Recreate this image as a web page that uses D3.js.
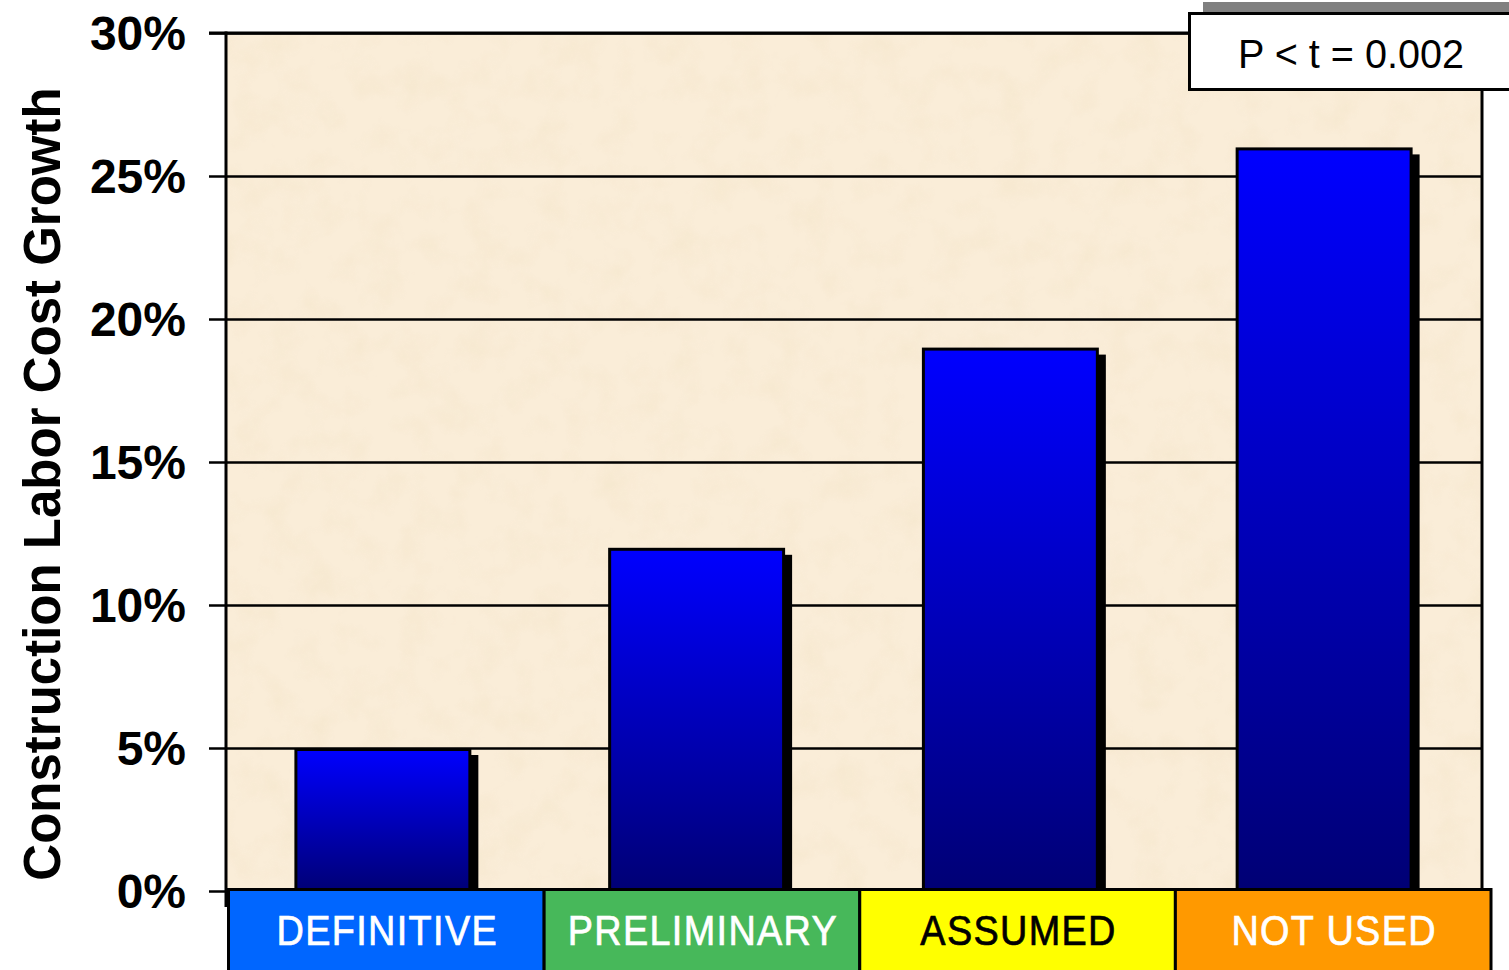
<!DOCTYPE html>
<html>
<head>
<meta charset="utf-8">
<script src="https://cdn.jsdelivr.net/npm/d3@7"></script>
<style>
  html, body { margin: 0; padding: 0; background: #ffffff; overflow: hidden; }
  svg { display: block; }
</style>
</head>
<body>
<svg id="chart" width="1509" height="970"></svg>
<script>
// ---- data ----
const categories = ["DEFINITIVE", "PRELIMINARY", "ASSUMED", "NOT USED"];
const values = [5, 12, 19, 26];               // % construction labor cost growth
const yTicks = [0, 5, 10, 15, 20, 25, 30];
const yTickLabels = ["0%", "5%", "10%", "15%", "20%", "25%", "30%"];
const yAxisTitle = "Construction Labor Cost Growth";
const annotation = "P < t = 0.002";

// ---- styles ----
const catFill = ["#0066FF", "#47B85A", "#FFFF00", "#FF9900"];
const catText = ["#FFFFFF", "#FFFFFF", "#000000", "#FFFFFF"];

const svg = d3.select("#chart");
const plot = { left: 226, right: 1481, top: 33, bottom: 891 };

const x = d3.scaleBand().domain(categories)
  .range([plot.left, plot.right]).paddingInner(0.436).paddingOuter(0.218);
const xCat = d3.scaleBand().domain(categories).range([228.5, 1491]).padding(0);
const y = d3.scaleLinear().domain([0, 30]).range([plot.bottom, plot.top]);

const defs = svg.append("defs");
const grad = defs.append("linearGradient").attr("id", "barGrad")
  .attr("x1", 0).attr("y1", 0).attr("x2", 0).attr("y2", 1);
grad.append("stop").attr("offset", "0%").attr("stop-color", "#0000FF");
grad.append("stop").attr("offset", "100%").attr("stop-color", "#000074");

const filt = defs.append("filter").attr("id", "paper")
  .attr("x", 0).attr("y", 0).attr("width", 1).attr("height", 1);
filt.append("feTurbulence").attr("type", "fractalNoise")
  .attr("baseFrequency", "0.03").attr("numOctaves", 4).attr("seed", 7);
filt.append("feColorMatrix").attr("type", "matrix")
  .attr("values", "0 0 0 0 0.90  0 0 0 0 0.78  0 0 0 0 0.58  0 0 0 2.2 -1.0");

// plot background
svg.append("rect")
  .attr("x", plot.left).attr("y", plot.top)
  .attr("width", plot.right - plot.left).attr("height", plot.bottom - plot.top)
  .attr("fill", "#FAEDD8");
svg.append("rect")
  .attr("x", plot.left).attr("y", plot.top)
  .attr("width", plot.right - plot.left).attr("height", plot.bottom - plot.top)
  .attr("filter", "url(#paper)").attr("opacity", 0.45);

// gridlines
const grid = svg.append("g").attr("transform", `translate(${plot.left},0)`)
  .call(d3.axisLeft(y).tickValues(yTicks).tickSize(-(plot.right - plot.left)).tickFormat(""));
grid.select(".domain").remove();
grid.selectAll("line").attr("stroke", "#000").attr("stroke-width", 2.5);

// ticks + labels
const yAxis = svg.append("g").attr("transform", `translate(${plot.left},0)`)
  .call(d3.axisLeft(y).tickValues(yTicks).tickSize(17).tickPadding(23)
    .tickFormat((d, i) => yTickLabels[i]));
yAxis.select(".domain").remove();
yAxis.selectAll("line").attr("stroke", "#000").attr("stroke-width", 2.5);
yAxis.selectAll("text")
  .attr("font-family", "'Liberation Sans', Arial, sans-serif")
  .attr("font-weight", "bold").attr("font-size", 48).attr("fill", "#000")
  .attr("dy", "0.34em");

// bar shadows
svg.append("g").selectAll("rect").data(values).join("rect")
  .attr("x", (d, i) => x(categories[i]) + 7)
  .attr("y", d => y(d) + 7)
  .attr("width", x.bandwidth())
  .attr("height", d => y(0) - y(d) - 7)
  .attr("fill", "#000");

// bars
svg.append("g").selectAll("rect").data(values).join("rect")
  .attr("x", (d, i) => x(categories[i]) + 1.5)
  .attr("y", d => y(d) + 1.5)
  .attr("width", x.bandwidth() - 3)
  .attr("height", d => y(0) - y(d))
  .attr("fill", "url(#barGrad)")
  .attr("stroke", "#000").attr("stroke-width", 3);

// plot frame
svg.append("line").attr("x1", 209).attr("x2", 1189)
  .attr("y1", plot.top).attr("y2", plot.top)
  .attr("stroke", "#000").attr("stroke-width", 3);
svg.append("line").attr("x1", plot.left).attr("x2", plot.left)
  .attr("y1", plot.top - 1.5).attr("y2", 907)
  .attr("stroke", "#000").attr("stroke-width", 3);
svg.append("line").attr("x1", plot.right + 1).attr("x2", plot.right + 1)
  .attr("y1", 80).attr("y2", plot.bottom)
  .attr("stroke", "#000").attr("stroke-width", 3);

// category band
const cat = svg.append("g");
cat.selectAll("rect").data(categories).join("rect")
  .attr("x", d => xCat(d)).attr("y", 889.5)
  .attr("width", xCat.bandwidth()).attr("height", 100)
  .attr("fill", (d, i) => catFill[i])
  .attr("stroke", "#000").attr("stroke-width", 3);
cat.selectAll("text").data(categories).join("text")
  .attr("x", d => xCat(d) + xCat.bandwidth() / 2 + 1)
  .attr("y", 945)
  .attr("text-anchor", "middle")
  .attr("font-family", "'Liberation Sans', Arial, sans-serif")
  .attr("font-size", 42)
  .attr("fill", (d, i) => catText[i])
  .attr("stroke", (d, i) => catText[i]).attr("stroke-width", 0.7)
  .attr("letter-spacing", 1.5)
  .text(d => d)
  .each(function () {
    const len = this.getComputedTextLength();
    d3.select(this).attr("textLength", len * 0.9).attr("lengthAdjust", "spacingAndGlyphs");
  });

// y axis title
svg.append("text")
  .attr("transform", "translate(60,484) rotate(-90)")
  .attr("text-anchor", "middle")
  .attr("font-family", "'Liberation Sans', Arial, sans-serif")
  .attr("font-weight", "bold").attr("font-size", 51).attr("fill", "#000")
  .text(yAxisTitle);

// annotation box
svg.append("rect").attr("x", 1203).attr("y", 2).attr("width", 330).attr("height", 80)
  .attr("fill", "#808080");
svg.append("rect").attr("x", 1189.5).attr("y", 13.5).attr("width", 340).attr("height", 76)
  .attr("fill", "#FFFFFF").attr("stroke", "#000").attr("stroke-width", 3);
svg.append("text")
  .attr("x", 1351).attr("y", 68)
  .attr("text-anchor", "middle")
  .attr("font-family", "'Liberation Sans', Arial, sans-serif")
  .attr("font-size", 41).attr("fill", "#000")
  .text(annotation)
  .each(function () {
    const len = this.getComputedTextLength();
    d3.select(this).attr("textLength", len * 0.965).attr("lengthAdjust", "spacingAndGlyphs");
  });
</script>
</body>
</html>
